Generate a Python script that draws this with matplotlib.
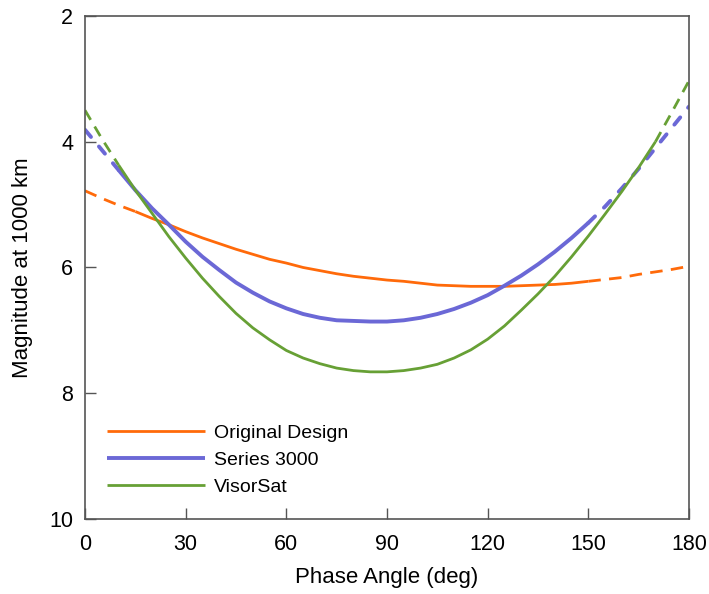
import matplotlib
matplotlib.use('Agg')
import matplotlib.pyplot as plt
import numpy as np

plt.rcParams['font.family'] = ['Liberation Sans', 'DejaVu Sans']

# Phase angle grid (deg) and magnitude at 1000 km for each design
phase = np.arange(0, 181, 5)
original = [4.78, 4.90, 5.01, 5.11, 5.22, 5.32, 5.43, 5.53, 5.62, 5.71,
            5.79, 5.87, 5.93, 6.00, 6.05, 6.10, 6.14, 6.17, 6.20, 6.22,
            6.25, 6.28, 6.29, 6.30, 6.30, 6.30, 6.29, 6.28, 6.27, 6.25,
            6.22, 6.19, 6.16, 6.11, 6.07, 6.03, 5.98]
series3000 = [3.81, 4.13, 4.45, 4.77, 5.06, 5.32, 5.59, 5.83, 6.04, 6.24,
              6.40, 6.54, 6.65, 6.74, 6.80, 6.84, 6.85, 6.86, 6.86, 6.84,
              6.80, 6.74, 6.66, 6.56, 6.44, 6.29, 6.13, 5.95, 5.75, 5.53,
              5.29, 5.03, 4.74, 4.43, 4.10, 3.77, 3.44]
visorsat = [3.50, 3.95, 4.37, 4.77, 5.14, 5.51, 5.85, 6.17, 6.46, 6.73,
            6.96, 7.15, 7.32, 7.44, 7.53, 7.60, 7.64, 7.66, 7.66, 7.64,
            7.60, 7.54, 7.44, 7.31, 7.14, 6.93, 6.68, 6.42, 6.14, 5.83,
            5.50, 5.15, 4.79, 4.41, 4.00, 3.52, 3.03]

# measured range (deg) for each curve; outside it the curve is extrapolated
names = ['Original Design', 'Series 3000', 'VisorSat']
values = [original, series3000, visorsat]
measured = [(15, 150), (10, 150), (10, 170)]
colors = ['#FF6A0A', '#6B68D6', '#67A035']
widths = [2.0, 2.8, 2.0]
dashes = [(0, (4.5, 3.0)), (0, (2.4, 3.2)), (0, (4.0, 2.8))]
caps = ['butt', 'round', 'butt']

fig = plt.figure(figsize=(7.09, 5.94), dpi=100)
ax = fig.add_axes([0.1199, 0.1263, 0.8519, 0.8468])

for name, vals, (lo, hi), c, lw, ds, cap in zip(names, values, measured,
                                                colors, widths, dashes, caps):
    vals = np.array(vals)
    inside = (phase >= lo) & (phase <= hi)
    ax.plot(phase[inside], vals[inside], color=c, lw=lw, label=name,
            solid_capstyle='butt')
    for part in (phase <= lo, phase >= hi):
        ax.plot(phase[part], vals[part], color=c, lw=lw, ls=ds,
                dash_capstyle=cap)

ax.set_xlim(0, 180)
ax.set_ylim(10, 2)
ax.set_xticks(np.arange(0, 181, 30))
ax.set_yticks([2, 4, 6, 8, 10])
ax.tick_params(direction='in', length=8, width=1, color='#555555',
               labelsize=15.5)
ax.tick_params(axis='x', pad=10.5)
ax.tick_params(axis='y', pad=8.5)
for s in ax.spines.values():
    s.set_color('#555555')
    s.set_linewidth(1.2)

ax.set_xlabel('Phase Angle (deg)', fontsize=16, labelpad=9)
ax.set_ylabel('Magnitude at 1000 km', fontsize=16, labelpad=12)

ax.legend(loc='center left', bbox_to_anchor=(0.036, 0.117), frameon=False,
          fontsize=14, handlelength=5.05, handletextpad=0.46,
          borderpad=0, borderaxespad=0, labelspacing=0.48)

fig.savefig('out.png', dpi=100)
